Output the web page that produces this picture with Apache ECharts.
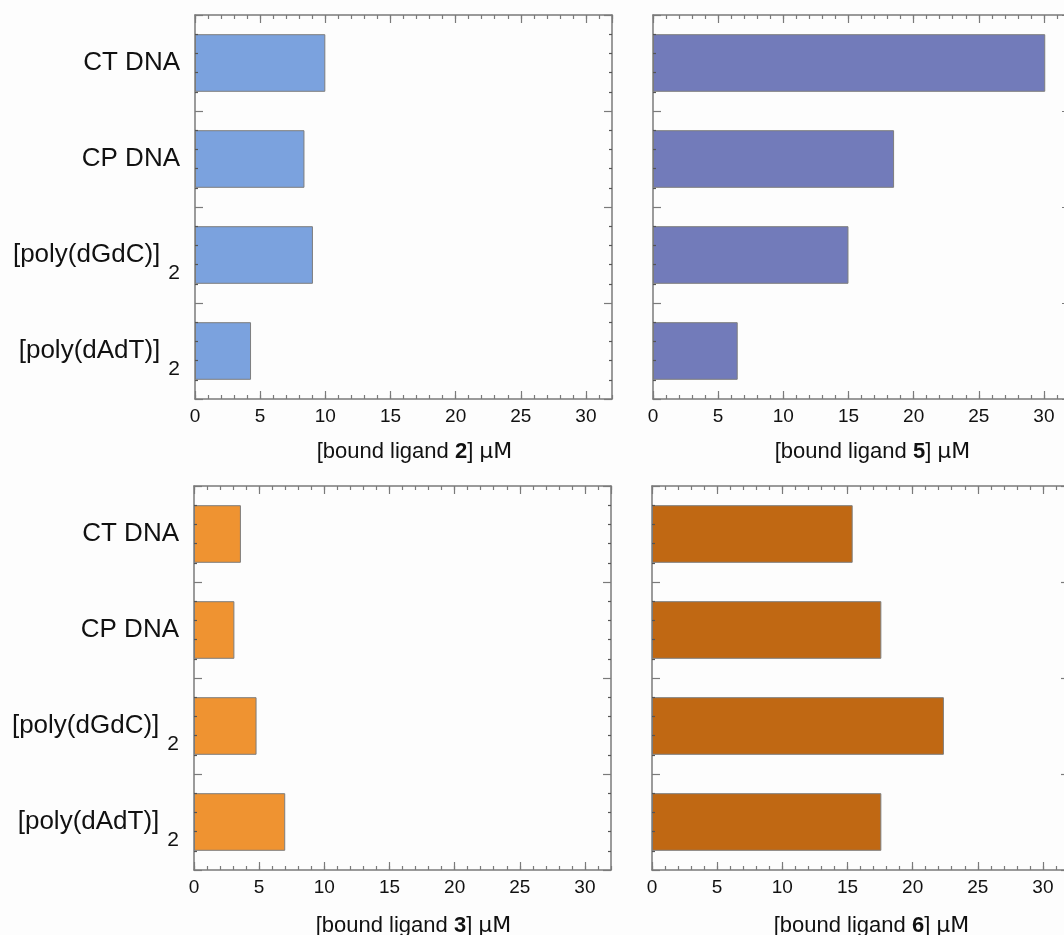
<!DOCTYPE html>
<html>
<head>
<meta charset="utf-8">
<script src="https://cdn.jsdelivr.net/npm/echarts@6/dist/echarts.min.js"></script>
<style>
html,body{margin:0;padding:0;background:#fdfdfd;}
#c{width:1064px;height:935px;}
</style>
</head>
<body>
<div id="c"></div>
<script>
// ---- data ----
const categories = ['CT DNA', 'CP DNA', '[poly(dGdC)]2', '[poly(dAdT)]2'];
const ligand2 = [10.0, 8.4, 9.05, 4.3];
const ligand5 = [30.1, 18.5, 15.0, 6.5];
const ligand3 = [3.6, 3.1, 4.8, 7.0];
const ligand6 = [15.4, 17.6, 22.4, 17.6];
const xTickLabels = ['0', '5', '10', '15', '20', '25', '30'];
const xMax = 32;

// ---- styling ----
const FONT = 'Liberation Sans, Arial, sans-serif';
const AXC = '#7a7a7a';

const panels = [
  {left: 195, top: 15, data: ligand2, color: '#7ba2de', lig: '2', cats: true, gap: 42},
  {left: 653, top: 15, data: ligand5, color: '#727bba', lig: '5', cats: false, gap: 42},
  {left: 194, top: 486, data: ligand3, color: '#ef9331', lig: '3', cats: true, gap: 45},
  {left: 652, top: 486, data: ligand6, color: '#c06813', lig: '6', cats: false, gap: 45}
];

const grid = [], xAxis = [], yAxis = [], series = [];

function tickAxisX(i, pos, interval, len, withLine) {
  return {
    type: 'value', gridIndex: i, position: pos, min: 0, max: xMax, interval: interval, z: 5,
    axisLine: {show: withLine, onZero: false, lineStyle: {color: AXC, width: 1.5}},
    axisTick: {show: true, inside: true, length: len, lineStyle: {color: AXC, width: 1.2}},
    axisLabel: {show: false}, splitLine: {show: false}
  };
}

panels.forEach((p, i) => {
  grid.push({left: p.left, top: p.top, width: 417, height: 384,
    containLabel: false, outerBoundsMode: 'none'});
  const xBase = xAxis.length;
  // major bottom (labels + name)
  const main = tickAxisX(i, 'bottom', 5, 8, true);
  main.axisLabel = {show: true, margin: 8, fontSize: 19, color: '#111', fontFamily: FONT,
    showMaxLabel: false,
    formatter: v => xTickLabels.indexOf(String(v)) >= 0 ? String(v) : ''};
  main.name = '{n|[bound ligand }{b|' + p.lig + '}{n|] }{m|μM}';
  main.nameLocation = 'middle';
  main.nameGap = p.gap;
  main.nameTextStyle = {padding: [0, 0, 0, 22], rich: {
    n: {fontSize: 22, fontFamily: FONT, color: '#111'},
    b: {fontSize: 22, fontFamily: FONT, fontWeight: 'bold', color: '#111'},
    m: {fontSize: 22, fontFamily: 'DejaVu Sans, sans-serif', color: '#111'}
  }};
  xAxis.push(main);
  xAxis.push(tickAxisX(i, 'bottom', 1, 4, false));
  xAxis.push(tickAxisX(i, 'top', 5, 8, true));
  xAxis.push(tickAxisX(i, 'top', 1, 4, false));

  const yBase = yAxis.length;
  yAxis.push({
    type: 'category', gridIndex: i, data: categories, inverse: true, position: 'left', z: 5,
    axisLine: {show: false, onZero: false}, axisTick: {show: false},
    axisLabel: {
      show: p.cats, margin: 15,
      formatter: v => v.endsWith(']2') ? '{a|' + v.slice(0, -1) + '}{s|2}' : '{a|' + v + '}',
      rich: {
        a: {fontSize: 26, fontFamily: FONT, color: '#111'},
        s: {fontSize: 21, fontFamily: FONT, color: '#111', padding: [36, 0, 0, 8]}
      }
    }
  });
  ['left', 'right'].forEach(pos => {
    yAxis.push({
      type: 'value', gridIndex: i, position: pos, min: 0, max: 4, interval: 1, z: 5,
      axisLine: {show: true, onZero: false, lineStyle: {color: AXC, width: 1.5}},
      axisTick: {show: true, inside: true, length: 8, lineStyle: {color: AXC, width: 1.2}},
      minorTick: {show: true, splitNumber: 5, length: 3, lineStyle: {color: '#555', width: 1.2}},
      axisLabel: {show: false}, splitLine: {show: false}, minorSplitLine: {show: false}
    });
  });

  series.push({
    type: 'bar', xAxisIndex: xBase, yAxisIndex: yBase, data: p.data, barWidth: '60%',
    itemStyle: {color: p.color, borderColor: '#7d7d7d', borderWidth: 1},
    silent: true, animation: false
  });
});

const chart = echarts.init(document.getElementById('c'));
chart.setOption({
  backgroundColor: '#fdfdfd',
  animation: false,
  grid, xAxis, yAxis, series
});
</script>
</body>
</html>
